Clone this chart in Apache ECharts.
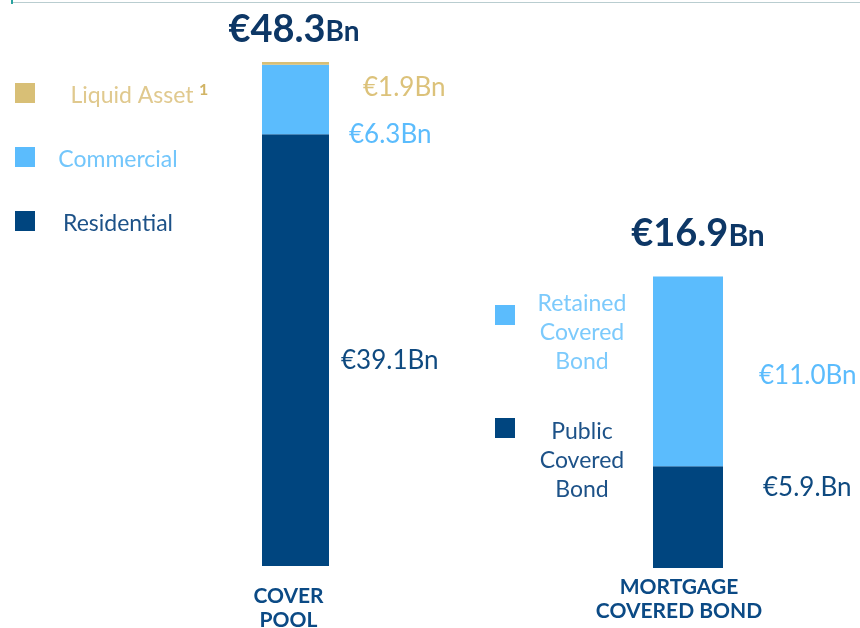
<!DOCTYPE html>
<html>
<head>
<meta charset="utf-8">
<script src="https://cdn.jsdelivr.net/npm/echarts@6/dist/echarts.min.js"></script>
<style>
  html, body { margin: 0; padding: 0; background: #fff; }
  #main { width: 860px; height: 628px; }
</style>
</head>
<body>
<div id="main"></div>
<script>
// categories
const categories = ['COVER\nPOOL', 'MORTGAGE\nCOVERED BOND'];
const totals = ['48.3', '16.9'];

// cover pool stack (bottom -> top), heights as drawn in the picture
const coverNames = ['Residential', 'Commercial', 'Liquid Asset'];
const coverValues = [39.1, 6.3, 0.25];
const coverLabels = ['€39.1Bn', '€6.3Bn', '€1.9Bn'];

// mortgage covered bond stack (bottom -> top)
const bondNames = ['Public Covered Bond', 'Retained Covered Bond'];
const bondValues = [5.9, 11.0];
const bondLabels = ['€5.9.Bn', '€11.0Bn'];

const NAVY = '#00457f';
const LIGHT = '#5bbcfd';
const GOLD = '#d8bf76';
const TITLE = '#0d3766';
const FONT = 'Lato, "Open Sans", sans-serif';

const coverColors = [NAVY, LIGHT, GOLD];
const coverLabelColors = ['#0f4a80', '#5bbcfd', '#dcc27a'];
const coverOffsets = [[7, 10], [15, 35], [29, 24]];
const bondColors = [NAVY, LIGHT];
const bondLabelColors = ['#0f4a80', '#5bbcfd'];
const bondOffsets = [[35, -30], [31, 4]];

const myChart = echarts.init(document.getElementById('main'));

let series = [];
coverNames.forEach((name, i) => {
    series.push({
        name: name,
        type: 'bar',
        stack: 'cover',
        xAxisIndex: 0,
        yAxisIndex: 0,
        barWidth: 67,
        itemStyle: { color: coverColors[i] },
        label: {
            show: true,
            position: 'right',
            offset: coverOffsets[i],
            color: coverLabelColors[i],
            fontFamily: FONT,
            fontSize: 26,
            formatter: () => coverLabels[i]
        },
        data: [coverValues[i]]
    });
});
bondNames.forEach((name, i) => {
    series.push({
        name: name,
        type: 'bar',
        stack: 'bond',
        xAxisIndex: 1,
        yAxisIndex: 1,
        barWidth: 70,
        itemStyle: { color: bondColors[i] },
        label: {
            show: true,
            position: 'right',
            offset: bondOffsets[i],
            color: bondLabelColors[i],
            fontFamily: FONT,
            fontSize: 26,
            formatter: () => bondLabels[i]
        },
        data: [bondValues[i]]
    });
});

// legend squares + texts
let graphics = [
    { type: 'rect', shape: { x: 12, y: 2, width: 848, height: 1 }, style: { fill: '#b9cdd0' } },
    { type: 'rect', shape: { x: 11, y: 0, width: 2, height: 4 }, style: { fill: '#2aa3a0' } }
];
const leftLegend = [
    { name: 'Liquid Asset', color: GOLD, text: '#e0c98e', y: 93, tx: 132 },
    { name: 'Commercial', color: LIGHT, text: '#73c6fb', y: 157, tx: 118 },
    { name: 'Residential', color: NAVY, text: '#1d5288', y: 221, tx: 118 }
];
leftLegend.forEach(it => {
    graphics.push({ type: 'rect', shape: { x: 15, y: it.y - 10, width: 20, height: 20 }, style: { fill: it.color } });
    graphics.push({
        type: 'text', x: it.tx, y: it.y + 3,
        style: { text: it.name, fill: it.text, font: '23px ' + FONT, align: 'center', verticalAlign: 'middle' }
    });
});
graphics.push({
    type: 'text', x: 199, y: 90,
    style: { text: '1', fill: '#d1b465', font: 'bold 16px ' + FONT, verticalAlign: 'middle' }
});
const rightLegend = [
    { name: 'Retained\nCovered\nBond', color: LIGHT, text: '#7ccafc', y: 315, ty: 333 },
    { name: 'Public\nCovered\nBond', color: NAVY, text: '#1d5288', y: 428, ty: 461 }
];
rightLegend.forEach(it => {
    graphics.push({ type: 'rect', shape: { x: 495, y: it.y - 10, width: 20, height: 20 }, style: { fill: it.color } });
    graphics.push({
        type: 'text', x: 582, y: it.ty,
        style: { text: it.name, fill: it.text, font: '23px ' + FONT, lineHeight: 29, align: 'center', verticalAlign: 'middle' }
    });
});
// totals
[[294, 30], [698, 234]].forEach((p, i) => {
    graphics.push({
        type: 'text', x: p[0], y: p[1],
        style: {
            text: '{a|€' + totals[i] + '}{b|Bn}',
            align: 'center', verticalAlign: 'middle',
            rich: {
                a: { fontFamily: FONT, fontWeight: 'bold', fontSize: 38, fill: TITLE, color: TITLE },
                b: { fontFamily: FONT, fontWeight: 'bold', fontSize: i ? 30 : 28, fill: TITLE, color: TITLE, padding: [4, 0, 0, 0] }
            }
        }
    });
});

const catLabel = (pad, margin) => ({
    show: true,
    color: '#0b4a85',
    fontFamily: FONT,
    fontWeight: 'bold',
    fontSize: 21,
    lineHeight: 24,
    margin: margin,
    padding: pad
});

const option = {
    animation: false,
    grid: [
        { left: 230, width: 131, top: 14, bottom: 62, outerBoundsMode: 'none', containLabel: false },
        { left: 623, width: 130, top: 223, bottom: 60, outerBoundsMode: 'none', containLabel: false }
    ],
    xAxis: [
        {
            type: 'category', gridIndex: 0, data: [categories[0]],
            axisLine: { show: false }, axisTick: { show: false },
            axisLabel: catLabel([0, 14, 0, 0], 18)
        },
        {
            type: 'category', gridIndex: 1, data: [categories[1]],
            axisLine: { show: false }, axisTick: { show: false },
            axisLabel: catLabel([0, 18, 0, 0], 7)
        }
    ],
    yAxis: [
        { type: 'value', gridIndex: 0, min: 0, max: 50, show: false, splitLine: { show: false } },
        { type: 'value', gridIndex: 1, min: 0, max: 20, show: false, splitLine: { show: false } }
    ],
    graphic: graphics,
    series: series
};

myChart.setOption(option);
</script>
</body>
</html>
